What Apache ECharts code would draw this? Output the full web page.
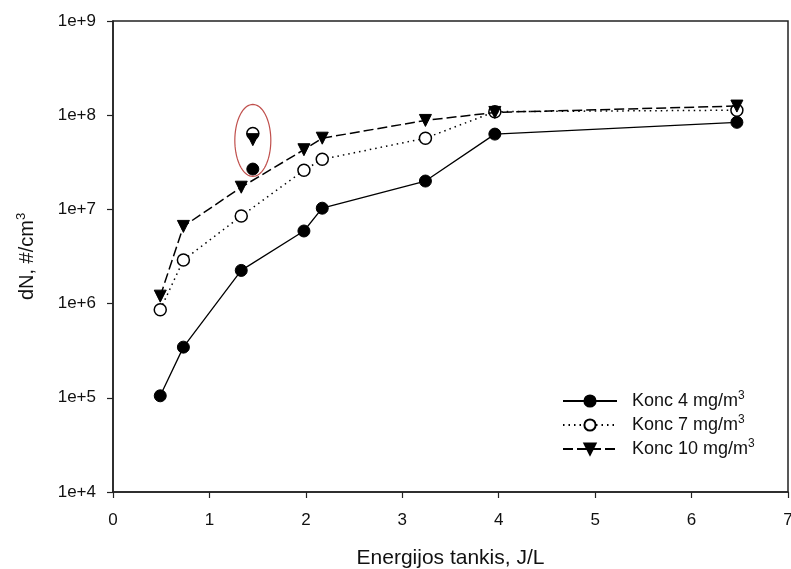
<!DOCTYPE html>
<html>
<head>
<meta charset="utf-8">
<script src="https://cdn.jsdelivr.net/npm/echarts@6/dist/echarts.min.js"></script>
<style>
  html, body { margin: 0; padding: 0; background: #fff; }
  #chart { width: 791px; height: 569px; }
</style>
</head>
<body>
<div id="chart"></div>
<script>
// Energy density (J/L) at which particle counts were measured
const energy = [0.49, 0.73, 1.33, 1.98, 2.17, 3.24, 3.96, 6.47];

// Particle number concentration dN (#/cm3) for each inlet concentration
const konc4  = [1.05e5, 3.45e5, 2.25e6, 5.9e6, 1.03e7, 2.0e7, 6.3e7, 8.4e7];
const konc7  = [8.6e5, 2.9e6, 8.5e6, 2.6e7, 3.4e7, 5.7e7, 1.09e8, 1.13e8];
const konc10 = [1.2e6, 6.6e6, 1.72e7, 4.3e7, 5.7e7, 8.8e7, 1.07e8, 1.25e8];

// Separate measurement at 1.45 J/L, highlighted by an ellipse
const extraEnergy = 1.45;
const extra4  = 2.68e7;
const extra7  = 6.4e7;
const extra10 = 5.5e7;
const highlightCenter = [1.45, 5.4e7];

const seriesNames = ['Konc 4 mg/m', 'Konc 7 mg/m', 'Konc 10 mg/m'];
const yTicks = ['1e+4', '1e+5', '1e+6', '1e+7', '1e+8', '1e+9'];

const FONT = "'Liberation Sans', Arial, sans-serif";
const INK = '#111';

function pairs(xs, ys) { return xs.map((x, i) => [x, ys[i]]); }

const chart = echarts.init(document.getElementById('chart'), null, { renderer: 'canvas' });

const option = {
  backgroundColor: '#fff',
  animation: false,
  grid: {
    left: 113, right: 3, top: 21, bottom: 77,
    containLabel: false, outerBoundsMode: 'none',
    show: true, borderColor: '#222', borderWidth: 1.5, backgroundColor: 'transparent'
  },
  legend: {
    orient: 'vertical',
    left: 557, top: 385,
    itemWidth: 54, itemHeight: 14, itemGap: 2,
    data: seriesNames,
    formatter: name => name + '{sup|3}',
    textStyle: {
      fontFamily: FONT, fontSize: 18, color: INK, lineHeight: 22,
      padding: [0, 0, 0, 10],
      rich: { sup: { fontFamily: FONT, fontSize: 12, lineHeight: 8, verticalAlign: 'top', color: INK } }
    }
  },
  xAxis: {
    type: 'value', min: 0, max: 7, interval: 1,
    name: 'Energijos tankis, J/L',
    nameLocation: 'middle', nameGap: 56,
    nameTextStyle: { fontFamily: FONT, fontSize: 21, color: INK },
    axisLine: { lineStyle: { color: '#222', width: 1.5 } },
    axisTick: { show: true, length: 6, lineStyle: { color: '#222', width: 1.2 } },
    axisLabel: { fontFamily: FONT, fontSize: 17, color: INK, margin: 20 },
    splitLine: { show: false }
  },
  yAxis: {
    type: 'log', logBase: 10, min: 1e4, max: 1e9,
    name: 'dN, #/cm{sup|3}',
    nameLocation: 'middle', nameGap: 74, nameRotate: 90,
    nameTextStyle: {
      fontFamily: FONT, fontSize: 20, color: INK, lineHeight: 24,
      rich: { sup: { fontFamily: FONT, fontSize: 13, lineHeight: 9, verticalAlign: 'top', color: INK } }
    },
    axisLine: { show: true, lineStyle: { color: '#222', width: 1.5 } },
    axisTick: { show: true, length: 6, lineStyle: { color: '#222', width: 1.2 } },
    axisLabel: {
      fontFamily: FONT, fontSize: 17, color: INK, margin: 17,
      formatter: v => yTicks[Math.round(Math.log10(v)) - 4]
    },
    splitLine: { show: false },
    minorTick: { show: false }
  },
  series: [
    {
      name: seriesNames[0], type: 'line', data: pairs(energy, konc4),
      symbol: 'circle', symbolSize: 12,
      itemStyle: { color: '#000', borderColor: '#000', borderWidth: 1 },
      lineStyle: { color: '#000', width: 1.3, type: 'solid' },
      z: 3
    },
    {
      name: seriesNames[1], type: 'line', data: pairs(energy, konc7),
      symbol: 'circle', symbolSize: 12,
      itemStyle: { color: '#fff', borderColor: '#000', borderWidth: 1.5 },
      lineStyle: { color: '#000', width: 1.5, type: [1.5, 4] },
      z: 4
    },
    {
      name: seriesNames[2], type: 'line', data: pairs(energy, konc10),
      symbol: 'triangle', symbolRotate: 180, symbolSize: 12,
      itemStyle: { color: '#000', borderColor: '#000', borderWidth: 1 },
      lineStyle: { color: '#000', width: 1.5, type: [10, 4] },
      z: 5
    },
    {
      name: 'extra4', type: 'scatter', data: [[extraEnergy, extra4]],
      symbol: 'circle', symbolSize: 12,
      itemStyle: { color: '#000', borderColor: '#000', borderWidth: 1, opacity: 1 }, z: 6
    },
    {
      name: 'extra7', type: 'scatter', data: [[extraEnergy, extra7]],
      symbol: 'circle', symbolSize: 12,
      itemStyle: { color: '#fff', borderColor: '#000', borderWidth: 1.5, opacity: 1 }, z: 6
    },
    {
      name: 'extra10', type: 'scatter', data: [[extraEnergy, extra10]],
      symbol: 'triangle', symbolRotate: 180, symbolSize: 12,
      itemStyle: { color: '#000', borderColor: '#000', borderWidth: 1, opacity: 1 }, z: 7
    }
  ]
};

chart.setOption(option);

// Red ellipse around the separate measurement, centred via the axis scales
const c = chart.convertToPixel({ gridIndex: 0 }, highlightCenter);
const rx = 18, ry = 36;
const ellipsePts = [];
for (let i = 0; i < 72; i++) {
  const t = (i / 72) * Math.PI * 2;
  ellipsePts.push([c[0] + rx * Math.cos(t), c[1] + ry * Math.sin(t)]);
}
chart.setOption({
  graphic: [{
    type: 'polygon', z: 100,
    shape: { points: ellipsePts },
    style: { fill: 'none', stroke: '#c0504d', lineWidth: 1.2 }
  }]
});
</script>
</body>
</html>
